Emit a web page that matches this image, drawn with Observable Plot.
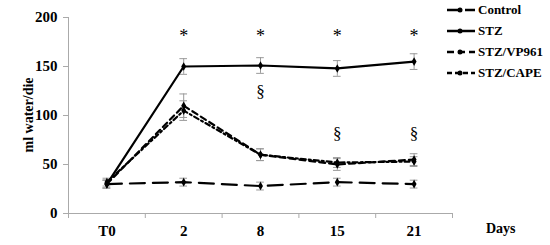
<!DOCTYPE html>
<html><head><meta charset="utf-8">
<script src="https://cdn.jsdelivr.net/npm/d3@7"></script>
<script src="https://cdn.jsdelivr.net/npm/@observablehq/plot@0.6"></script>
<style>
body{margin:0;background:#fff;font-family:"Liberation Serif",serif;}
#wrap{position:relative;width:550px;height:245px;}
#legend{position:absolute;left:446px;top:-1px;font:bold 13px "Liberation Serif",serif;}
#legend div{height:21px;display:flex;align-items:center;}
#legend svg{margin-right:2px;}
#ylab{position:absolute;left:29px;top:115px;transform:translate(-50%,-50%) rotate(-90deg);font:bold 14px "Liberation Serif",serif;white-space:nowrap;}
#days{position:absolute;left:486px;top:221px;font:bold 14px "Liberation Serif",serif;}
</style></head>
<body><div id="wrap"><div id="ylab">ml water/die</div><div id="days">Days</div><div id="legend"></div></div>
<script>
const timepoints = ["T0","2","8","15","21"];
const groups = ["Control","STZ","STZ/VP961","STZ/CAPE"];
const control = [30,32,28,32,30];
const controlErr = [4,4,4,4,4];
const stz = [30,150,151,148,155];
const stzErr = [4,8,8,8,8];
const vp961 = [30,110,60,50,55];
const vp961Err = [4,12,6,6,6];
const cape = [32,105,60,52,53];
const capeErr = [4,10,6,5,5];
const asteriskY = [null,181,181,181,181];
const sectionY = [null,null,124,82,82];
const yTicks = [0,50,100,150,200];

const dashes = {"Control":"15,8","STZ":null,"STZ/VP961":"6,4","STZ/CAPE":"5,3,2,3"};
const series = [control,stz,vp961,cape];
const errs = [controlErr,stzErr,vp961Err,capeErr];
const rows = [];
groups.forEach((g,gi)=>timepoints.forEach((t,i)=>rows.push({g,i,v:series[gi][i],e:errs[gi][i]})));
const bounds = d3.range(timepoints.length+1).map(i=>i-0.5);
const marks = timepoints.map((t,i)=>({i,a:asteriskY[i],s:sectionY[i]}));

const lines = groups.map(g=>Plot.line(rows.filter(r=>r.g===g),{x:"i",y:"v",stroke:"#000",strokeWidth:2.2,strokeDasharray:dashes[g]}));

const chart = Plot.plot({
  width:550,height:245,
  marginLeft:68,marginRight:98,marginTop:17,marginBottom:32,
  x:{domain:[-0.5,4.5]},
  y:{domain:[0,200]},
  style:{fontFamily:"Liberation Serif",fontWeight:"bold",fontSize:"15px",color:"#000"},
  marks:[
    Plot.ruleY([0],{stroke:"#aaa"}),
    Plot.ruleX([-0.5],{stroke:"#aaa"}),
    Plot.axisY({ticks:yTicks,tickSize:5,stroke:"#aaa",tickPadding:6,label:null,fill:"#000",fontSize:15}),
    Plot.axisX({ticks:bounds,tickSize:5,stroke:"#aaa",tickFormat:()=>"",label:null}),
    Plot.axisX({ticks:d3.range(timepoints.length),tickSize:0,tickPadding:12,tickFormat:i=>timepoints[i],label:null,fontSize:15}),
    Plot.ruleX(rows,{x:"i",y1:r=>r.v-r.e,y2:r=>r.v+r.e,stroke:"#999",strokeWidth:1}),
    Plot.ruleY(rows,{x1:r=>r.i-0.05,x2:r=>r.i+0.05,y:r=>r.v-r.e,stroke:"#999",strokeWidth:1}),
    Plot.ruleY(rows,{x1:r=>r.i-0.05,x2:r=>r.i+0.05,y:r=>r.v+r.e,stroke:"#999",strokeWidth:1}),
    ...lines,
    Plot.dot(rows,{x:"i",y:"v",r:2.6,fill:"#000",symbol:"diamond"}),
    Plot.text(marks.filter(d=>d.a!=null),{x:"i",y:"a",text:()=>"*",fontSize:18,fontWeight:"normal",fontFamily:"Liberation Serif"}),
    Plot.text(marks.filter(d=>d.s!=null),{x:"i",y:"s",text:()=>"§",fontSize:17,fontWeight:"normal",fontFamily:"Liberation Serif"})
  ]
});
document.getElementById("wrap").prepend(chart);
const lg = document.getElementById("legend");
groups.forEach(g=>{
  const d = document.createElement("div");
  const da = dashes[g]?` stroke-dasharray="${g==="STZ/VP961"?"7,4":g==="STZ/CAPE"?"5,3":"12,6"}"`:"";
  d.innerHTML = `<svg width="30" height="10"><line x1="1" x2="29" y1="5" y2="5" stroke="#000" stroke-width="2.5"${da}/><circle cx="14" cy="5" r="2.5" fill="#000"/></svg><span>${g}</span>`;
  lg.appendChild(d);
});
</script></body></html>
